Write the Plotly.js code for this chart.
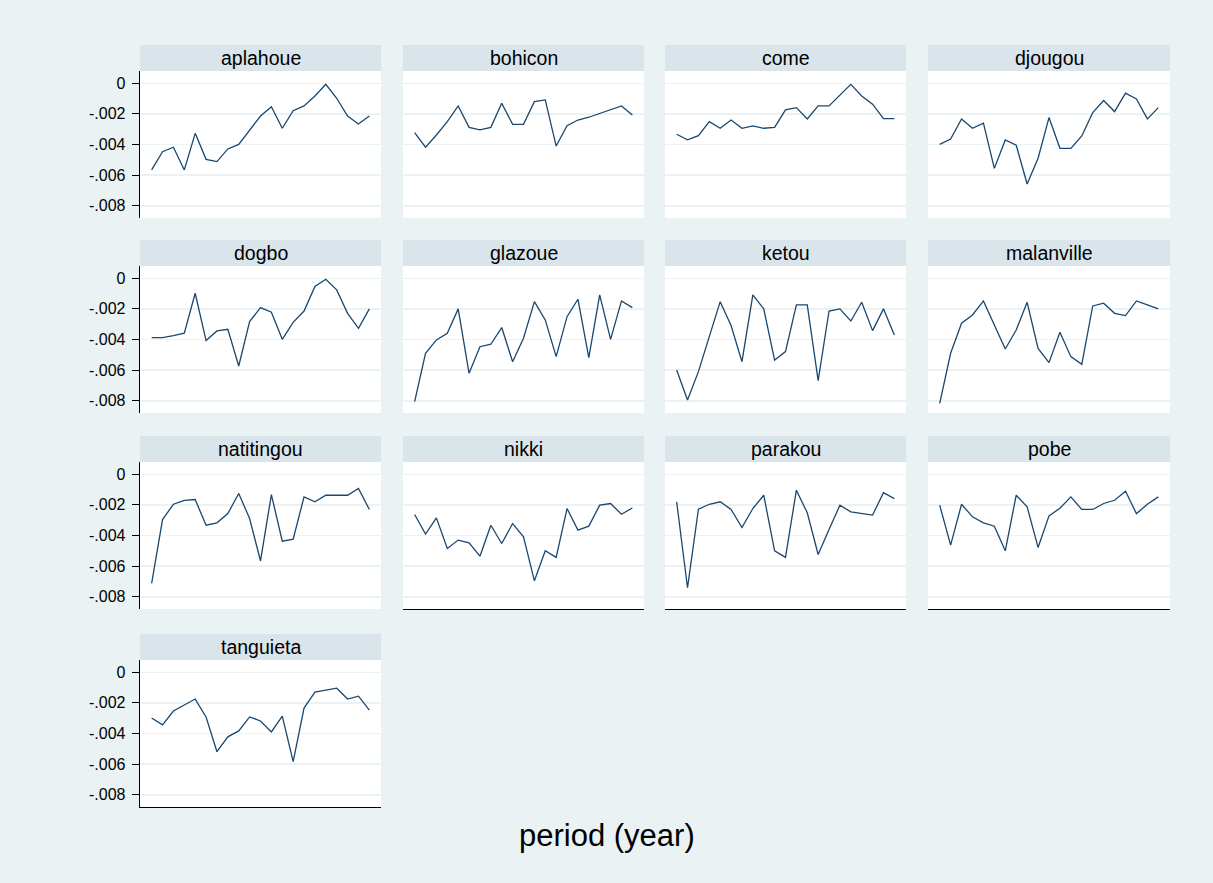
<!DOCTYPE html>
<html><head><meta charset="utf-8">
<script src="https://cdn.plot.ly/plotly-3.0.1.min.js"></script>
<style>html,body{margin:0;padding:0;background:#eaf2f3;overflow:hidden}</style>
</head><body><div id="chart" style="width:1213px;height:883px"></div>
<script>
const periods = [1,2,3,4,5,6,7,8,9,10,11,12,13,14,15,16,17,18,19,20,21];
const towns = ["aplahoue","bohicon","come","djougou","dogbo","glazoue","ketou","malanville","natitingou","nikki","parakou","pobe","tanguieta"];
const yTickVals = [0,-0.002,-0.004,-0.006,-0.008];
const yTickText = ["0","-.002","-.004","-.006","-.008"];

const aplahoue   = [-0.00566,-0.00447,-0.00418,-0.00566,-0.00327,-0.00497,-0.00512,-0.00429,-0.00399,-0.00305,-0.00214,-0.00153,-0.00294,-0.00179,-0.00148,-0.00083,-0.00007,-0.00098,-0.00214,-0.00266,-0.00214];
const bohicon    = [-0.00322,-0.00418,-0.00338,-0.00251,-0.00148,-0.00288,-0.00305,-0.00288,-0.00131,-0.00268,-0.00268,-0.00120,-0.00109,-0.00410,-0.00277,-0.00240,-0.00222,-0.00196,-0.00174,-0.00148,-0.00207];
const come       = [-0.00333,-0.00370,-0.00342,-0.00251,-0.00294,-0.00240,-0.00294,-0.00279,-0.00294,-0.00288,-0.00174,-0.00159,-0.00233,-0.00148,-0.00148,-0.00076,-0.00007,-0.00083,-0.00137,-0.00231,-0.00231];
const djougou    = [-0.00399,-0.00364,-0.00233,-0.00294,-0.00261,-0.00556,-0.00370,-0.00405,-0.00658,-0.00490,-0.00224,-0.00425,-0.00425,-0.00344,-0.00192,-0.00113,-0.00185,-0.00065,-0.00102,-0.00233,-0.00159];
const dogbo      = [-0.00388,-0.00388,-0.00375,-0.00359,-0.00098,-0.00407,-0.00344,-0.00333,-0.00573,-0.00283,-0.00192,-0.00222,-0.00399,-0.00288,-0.00214,-0.00054,-0.00007,-0.00076,-0.00229,-0.00327,-0.00200];
const glazoue    = [-0.00806,-0.00490,-0.00403,-0.00359,-0.00200,-0.00621,-0.00447,-0.00431,-0.00322,-0.00545,-0.00392,-0.00153,-0.00272,-0.00512,-0.00251,-0.00137,-0.00519,-0.00109,-0.00399,-0.00148,-0.00192];
const ketou      = [-0.00599,-0.00795,-0.00610,-0.00381,-0.00153,-0.00309,-0.00545,-0.00109,-0.00200,-0.00534,-0.00479,-0.00174,-0.00174,-0.00669,-0.00214,-0.00200,-0.00279,-0.00157,-0.00342,-0.00200,-0.00370];
const malanville = [-0.00817,-0.00490,-0.00294,-0.00240,-0.00148,-0.00305,-0.00462,-0.00338,-0.00157,-0.00458,-0.00551,-0.00353,-0.00512,-0.00562,-0.00181,-0.00163,-0.00229,-0.00244,-0.00148,-0.00174,-0.00200];
const natitingou = [-0.00713,-0.00296,-0.00196,-0.00170,-0.00165,-0.00333,-0.00317,-0.00257,-0.00126,-0.00289,-0.00565,-0.00133,-0.00437,-0.00424,-0.00148,-0.00180,-0.00137,-0.00137,-0.00137,-0.00093,-0.00230];
const nikki      = [-0.00263,-0.00391,-0.00285,-0.00485,-0.00430,-0.00448,-0.00535,-0.00333,-0.00452,-0.00322,-0.00409,-0.00696,-0.00500,-0.00543,-0.00224,-0.00365,-0.00339,-0.00202,-0.00191,-0.00261,-0.00220];
const parakou    = [-0.00180,-0.00741,-0.00228,-0.00196,-0.00180,-0.00230,-0.00348,-0.00224,-0.00137,-0.00500,-0.00543,-0.00104,-0.00252,-0.00524,-0.00361,-0.00202,-0.00246,-0.00257,-0.00267,-0.00120,-0.00159];
const pobe       = [-0.00202,-0.00463,-0.00196,-0.00278,-0.00317,-0.00339,-0.00500,-0.00137,-0.00213,-0.00478,-0.00272,-0.00222,-0.00148,-0.00230,-0.00230,-0.00191,-0.00170,-0.00111,-0.00257,-0.00196,-0.00148];
const tanguieta  = [-0.00299,-0.00344,-0.00253,-0.00214,-0.00175,-0.00292,-0.00519,-0.00422,-0.00383,-0.00292,-0.00318,-0.00390,-0.00286,-0.00584,-0.00234,-0.00130,-0.00117,-0.00104,-0.00175,-0.00156,-0.00247];

const series = [aplahoue,bohicon,come,djougou,dogbo,glazoue,ketou,malanville,natitingou,nikki,parakou,pobe,tanguieta];

const W = 1213, H = 883;
const colLeft  = [140, 403, 665, 928];
const colRight = [381, 644, 906, 1170];
const plotTop  = [71, 266, 462, 660];
const plotH = 147, stripH = 26;
const bottomPanels = [9,10,11,12];
const FONT = 'Liberation Sans, Arial, sans-serif';

const traces = [];
const layout = {
  width: W, height: H,
  margin: {l:0, r:0, t:0, b:0},
  paper_bgcolor: '#eaf2f3',
  plot_bgcolor: '#ffffff',
  showlegend: false,
  shapes: [], annotations: [],
  font: {family: FONT, color: '#000'}
};

towns.forEach((t, i) => {
  const col = i % 4, row = Math.floor(i / 4);
  const sfx = i === 0 ? '' : String(i + 1);
  traces.push({
    x: periods, y: series[i], type: 'scatter', mode: 'lines',
    xaxis: 'x' + sfx, yaxis: 'y' + sfx,
    line: {color: '#1a476f', width: 1.3},
    hoverinfo: 'skip'
  });
  const top = plotTop[row], bot = top + plotH;
  layout['xaxis' + sfx] = {
    domain: [colLeft[col] / W, colRight[col] / W],
    anchor: 'y' + sfx,
    range: [-0.07, 22.07],
    showgrid: false, zeroline: false, showticklabels: false, ticks: '',
    showline: bottomPanels.includes(i), linecolor: '#000', linewidth: 1.3
  };
  layout['yaxis' + sfx] = {
    domain: [1 - bot / H, 1 - top / H],
    anchor: 'x' + sfx,
    range: [-0.0088, 0.0008],
    tickvals: yTickVals, ticktext: yTickText,
    showgrid: true, gridcolor: '#eaf2f3', gridwidth: 1.5,
    zeroline: false,
    showticklabels: col === 0,
    ticks: col === 0 ? 'outside' : '', ticklen: 7, tickcolor: '#000', tickwidth: 1,
    ticklabelstandoff: 3,
    tickfont: {size: 16, color: '#000', family: FONT},
    showline: col === 0, linecolor: '#000', linewidth: 1.3
  };
  layout.shapes.push({
    type: 'rect', xref: 'paper', yref: 'paper', layer: 'below',
    x0: colLeft[col] / W, x1: colRight[col] / W,
    y0: 1 - top / H, y1: 1 - (top - stripH) / H,
    fillcolor: '#d9e5eb', line: {width: 0}
  });
  layout.annotations.push({
    xref: 'paper', yref: 'paper',
    x: (colLeft[col] + colRight[col]) / 2 / W,
    y: 1 - (top - stripH / 2) / H,
    text: t, showarrow: false, xanchor: 'center', yanchor: 'middle',
    font: {size: 19.5, color: '#000', family: FONT}
  });
});

layout.annotations.push({
  xref: 'paper', yref: 'paper', x: 607 / W, y: 1 - 835 / H,
  text: 'period (year)', showarrow: false, xanchor: 'center', yanchor: 'middle',
  font: {size: 31, color: '#000', family: FONT}
});

Plotly.newPlot('chart', traces, layout, {staticPlot: true, displayModeBar: false});
</script>
</body></html>
